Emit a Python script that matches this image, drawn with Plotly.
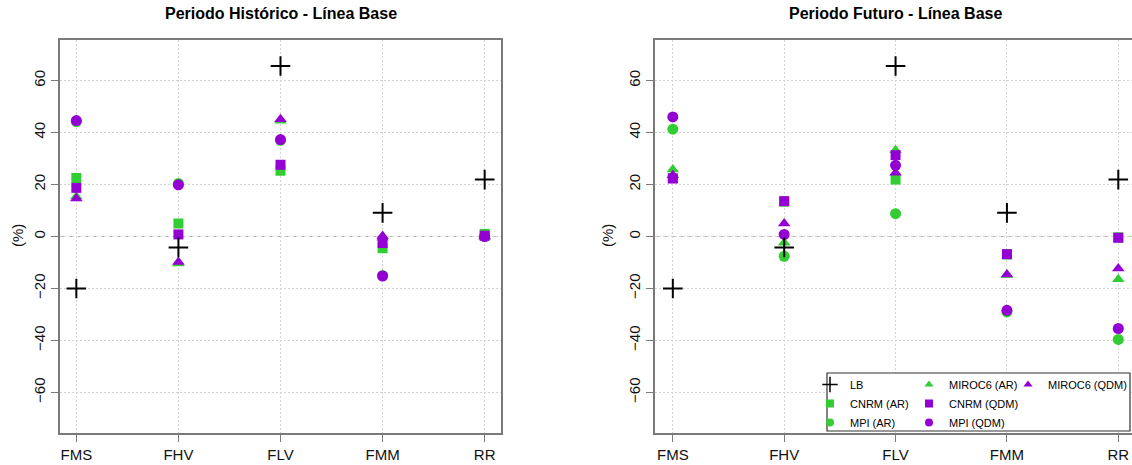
import plotly.graph_objects as go

# ---- data -------------------------------------------------------------
categories = ["FMS", "FHV", "FLV", "FMM", "RR"]
y_tick_values = [-60, -40, -20, 0, 20, 40, 60]

lb = [-20.0, -4.2, 65.6, 9.1, 21.9]

hist_cnrm_ar = [22.5, 5.0, 25.3, -4.5, 1.0]
hist_mpi_ar = [44.2, 20.4, 37.0, -15.0, 0.0]
hist_miroc_ar = [15.4, -10.4, 44.5, -0.5, 0.0]
hist_cnrm_qdm = [18.7, 0.8, 27.6, -2.5, 0.3]
hist_mpi_qdm = [44.6, 19.9, 37.3, -15.2, 0.0]
hist_miroc_qdm = [14.6, -9.8, 45.1, 0.2, 0.0]

fut_cnrm_ar = [22.5, 13.4, 21.9, -6.9, -0.3]
fut_mpi_ar = [41.3, -7.6, 8.8, -29.0, -39.6]
fut_miroc_ar = [25.8, -2.4, 33.2, -14.8, -16.4]
fut_cnrm_qdm = [22.3, 13.6, 31.3, -6.8, -0.5]
fut_mpi_qdm = [46.0, 0.8, 27.4, -28.4, -35.4]
fut_miroc_qdm = [23.6, 5.0, 24.5, -14.6, -12.3]

# ---- styling ------------------------------------------------------------
W, H = 1132, 465
TOP, BOTTOM = 40, 32
PLOT_H = H - TOP - BOTTOM
FONT = "Liberation Sans, Arial, sans-serif"
GREEN = "#32CD32"
PURPLE = "#9400D3"
AXIS_GREY = "#7a7a7a"

series_style = {
    "CNRM (AR)": dict(symbol="square", color=GREEN, size=10),
    "MPI (AR)": dict(symbol="circle", color=GREEN, size=11),
    "MIROC6 (AR)": dict(symbol="triangle-up", color=GREEN, size=11),
    "CNRM (QDM)": dict(symbol="square", color=PURPLE, size=10),
    "MPI (QDM)": dict(symbol="circle", color=PURPLE, size=11),
    "MIROC6 (QDM)": dict(symbol="triangle-up", color=PURPLE, size=11),
}

panels = [
    ("x", "y", {
        "CNRM (AR)": hist_cnrm_ar, "MPI (AR)": hist_mpi_ar, "MIROC6 (AR)": hist_miroc_ar,
        "CNRM (QDM)": hist_cnrm_qdm, "MPI (QDM)": hist_mpi_qdm, "MIROC6 (QDM)": hist_miroc_qdm,
    }),
    ("x2", "y2", {
        "CNRM (AR)": fut_cnrm_ar, "MPI (AR)": fut_mpi_ar, "MIROC6 (AR)": fut_miroc_ar,
        "CNRM (QDM)": fut_cnrm_qdm, "MPI (QDM)": fut_mpi_qdm, "MIROC6 (QDM)": fut_miroc_qdm,
    }),
]

fig = go.Figure()

for xa, ya, series in panels:
    for name, values in series.items():
        st = series_style[name]
        fig.add_trace(go.Scatter(
            x=categories, y=values, xaxis=xa, yaxis=ya, mode="markers",
            name=name, showlegend=False, hoverinfo="x+y+name",
            marker=dict(symbol=st["symbol"], color=st["color"], size=st["size"],
                        line=dict(width=0)),
        ))
    fig.add_trace(go.Scatter(
        x=categories, y=lb, xaxis=xa, yaxis=ya, mode="markers", name="LB",
        showlegend=False,
        marker=dict(symbol="cross-thin", size=14, color="black",
                    line=dict(width=2, color="black")),
    ))

# legend keys (three columns, each a legend of its own)
legend_columns = [
    ("legend", ["LB", "CNRM (AR)", "MPI (AR)"]),
    ("legend2", ["MIROC6 (AR)", "CNRM (QDM)", "MPI (QDM)"]),
    ("legend3", ["MIROC6 (QDM)"]),
]
for leg, names in legend_columns:
    for name in names:
        if name == "LB":
            mk = dict(symbol="cross-thin", size=11, color="black",
                      line=dict(width=1.5, color="black"))
        else:
            st = series_style[name]
            mk = dict(symbol=st["symbol"], color=st["color"], size=8, line=dict(width=0))
        fig.add_trace(go.Scatter(
            x=[None], y=[None], xaxis="x2", yaxis="y2", mode="markers",
            name=name, legend=leg, showlegend=True, marker=mk,
        ))


def px_x(p):
    return p / W


def px_y(p):
    return (H - BOTTOM - p) / PLOT_H


axis_common = dict(
    showline=True, linecolor=AXIS_GREY, linewidth=1.5,
    ticks="outside", ticklen=7, tickwidth=1.2, tickcolor=AXIS_GREY,
    showgrid=True, gridcolor="#d4d4d4", gridwidth=1, griddash="2px,2px",
    zeroline=False, tickfont=dict(family=FONT, size=15, color="#111"),
)

x_left = [px_x(60), px_x(501)]
x_right = [px_x(655), 1.0]

fig.update_layout(
    width=W, height=H,
    margin=dict(l=0, r=0, t=TOP, b=BOTTOM),
    paper_bgcolor="white", plot_bgcolor="white",
    font=dict(family=FONT, size=15, color="black"),
    xaxis=dict(domain=x_left, anchor="y", type="category", categoryorder="array",
               categoryarray=categories, range=[-0.16, 4.16], mirror=True, **axis_common),
    yaxis=dict(domain=[0, 1], anchor="x", range=[-75.6, 75.6], tickvals=y_tick_values,
               tickangle=-90, mirror=True, **axis_common),
    xaxis2=dict(domain=x_right, anchor="y2", type="category", categoryorder="array",
                categoryarray=categories, range=[-0.16, 4.123], mirror=True, **axis_common),
    yaxis2=dict(domain=[0, 1], anchor="x2", range=[-75.6, 75.6], tickvals=y_tick_values,
                tickangle=-90, mirror=False, **axis_common),
    showlegend=True,
)

legend_common = dict(
    orientation="v", xanchor="left", yanchor="top", y=px_y(370),
    bgcolor="rgba(0,0,0,0)", borderwidth=0, itemsizing="trace",
    font=dict(family=FONT, size=11, color="black"), itemclick=False,
    itemdoubleclick=False,
)
fig.update_layout(
    legend=dict(x=px_x(810), **legend_common),
    legend2=dict(x=px_x(909), **legend_common),
    legend3=dict(x=px_x(1008), **legend_common),
)

# zero reference line and the legend frame
for xref in ("x domain", "x2 domain"):
    fig.add_shape(type="line", xref=xref, x0=0, x1=1, yref="y", y0=0, y1=0,
                  line=dict(color="#b5b5b5", width=1.2, dash="5px,3px"), layer="below")
fig.add_shape(type="rect", xref="paper", yref="paper",
              x0=px_x(827), x1=px_x(1130), y0=px_y(431), y1=px_y(373),
              line=dict(color="#333", width=1.2), fillcolor="white", layer="above")

# panel titles and y-axis labels
titles = [("Periodo Histórico - Línea Base", x_left), ("Periodo Futuro - Línea Base", [px_x(655), px_x(1136)])]
for text, dom in titles:
    fig.add_annotation(text=f"<b>{text}</b>", xref="paper", yref="paper",
                       x=(dom[0] + dom[1]) / 2, y=px_y(14), xanchor="center", yanchor="middle",
                       showarrow=False, font=dict(family=FONT, size=16, color="black"))
for xpix in (17, 607):
    fig.add_annotation(text="(%)", xref="paper", yref="paper", x=px_x(xpix), y=px_y(236),
                       xanchor="center", yanchor="middle", textangle=-90, showarrow=False,
                       font=dict(family=FONT, size=15, color="#111"))

fig.write_html("out.html")
